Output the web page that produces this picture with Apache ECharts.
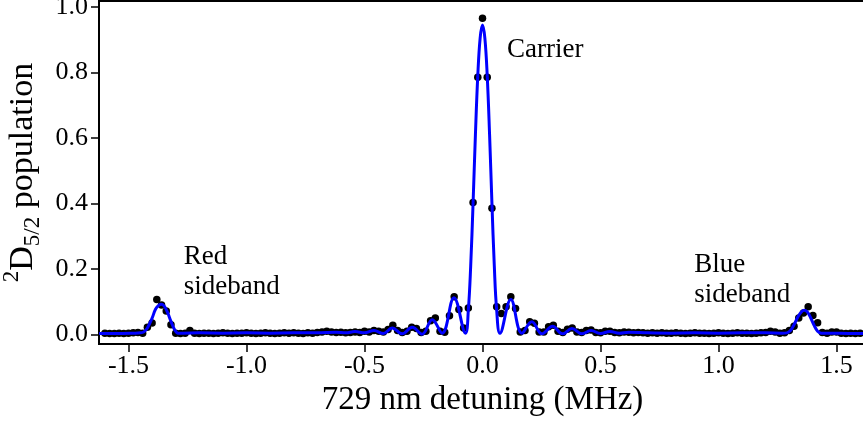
<!DOCTYPE html>
<html>
<head>
<meta charset="utf-8">
<script src="https://cdn.jsdelivr.net/npm/echarts@6/dist/echarts.min.js"></script>
<style>
  html, body { margin: 0; padding: 0; background: #fff; }
  #chart { width: 863px; height: 423px; }
</style>
</head>
<body>
<div id="chart"></div>
<script>
// Measured scan: laser detuning (MHz) and excited-state population
const detuning = [
  -1.60, -1.58, -1.56, -1.54, -1.52, -1.50, -1.48, -1.46, -1.44, -1.42,
  -1.40, -1.38, -1.36, -1.34, -1.32, -1.30, -1.28, -1.26, -1.24, -1.22,
  -1.20, -1.18, -1.16, -1.14, -1.12, -1.10, -1.08, -1.06, -1.04, -1.02,
  -1.00, -0.98, -0.96, -0.94, -0.92, -0.90, -0.88, -0.86, -0.84, -0.82,
  -0.80, -0.78, -0.76, -0.74, -0.72, -0.70, -0.68, -0.66, -0.64, -0.62,
  -0.60, -0.58, -0.56, -0.54, -0.52, -0.50, -0.48, -0.46, -0.44, -0.42,
  -0.40, -0.38, -0.36, -0.34, -0.32, -0.30, -0.28, -0.26, -0.24, -0.22,
  -0.20, -0.18, -0.16, -0.14, -0.12, -0.10, -0.08, -0.06, -0.04, -0.02,
   0.00,  0.02,  0.04,  0.06,  0.08,  0.10,  0.12,  0.14,  0.16,  0.18,
   0.20,  0.22,  0.24,  0.26,  0.28,  0.30,  0.32,  0.34,  0.36,  0.38,
   0.40,  0.42,  0.44,  0.46,  0.48,  0.50,  0.52,  0.54,  0.56,  0.58,
   0.60,  0.62,  0.64,  0.66,  0.68,  0.70,  0.72,  0.74,  0.76,  0.78,
   0.80,  0.82,  0.84,  0.86,  0.88,  0.90,  0.92,  0.94,  0.96,  0.98,
   1.00,  1.02,  1.04,  1.06,  1.08,  1.10,  1.12,  1.14,  1.16,  1.18,
   1.20,  1.22,  1.24,  1.26,  1.28,  1.30,  1.32,  1.34,  1.36,  1.38,
   1.40,  1.42,  1.44,  1.46,  1.48,  1.50,  1.52,  1.54,  1.56,  1.58,
   1.60
];
const population = [
  0.004, 0.003, 0.003, 0.004, 0.003, 0.004, 0.005, 0.006, 0.004, 0.022,
  0.035, 0.107, 0.090, 0.072, 0.030, 0.004, 0.003, 0.004, 0.012, 0.004,
  0.003, 0.004, 0.004, 0.003, 0.004, 0.005, 0.004, 0.003, 0.004, 0.004,
  0.005, 0.004, 0.003, 0.004, 0.005, 0.004, 0.003, 0.004, 0.005, 0.004,
  0.005, 0.004, 0.003, 0.005, 0.004, 0.006, 0.008, 0.010, 0.008, 0.006,
  0.007, 0.005, 0.006, 0.008, 0.006, 0.010, 0.008, 0.012, 0.010, 0.008,
  0.015, 0.028, 0.012, 0.006, 0.010, 0.022, 0.018, 0.006, 0.010, 0.042,
  0.050, 0.010, 0.007, 0.057, 0.115, 0.076, 0.020, 0.081, 0.403, 0.785,
  0.965, 0.785, 0.385, 0.085, 0.064, 0.085, 0.115, 0.079, 0.008, 0.012,
  0.039, 0.034, 0.008, 0.008, 0.024, 0.028, 0.010, 0.006, 0.016, 0.020,
  0.008, 0.006, 0.012, 0.014, 0.006, 0.005, 0.010, 0.010, 0.006, 0.005,
  0.008, 0.007, 0.005, 0.006, 0.005, 0.004, 0.005, 0.004, 0.005, 0.004,
  0.004, 0.005, 0.004, 0.003, 0.004, 0.005, 0.004, 0.004, 0.003, 0.004,
  0.005, 0.004, 0.003, 0.004, 0.005, 0.004, 0.004, 0.003, 0.004, 0.005,
  0.006, 0.010, 0.008, 0.004, 0.005, 0.012, 0.025, 0.050, 0.066, 0.085,
  0.058, 0.036, 0.006, 0.004, 0.008, 0.008, 0.004, 0.003, 0.004, 0.003,
  0.004
];

// Fitted lineshape, sampled at its turning points and along the carrier lobe
const fitDetuning = [
  -1.625, -1.55, -1.48, -1.45, -1.435, -1.42, -1.40, -1.385, -1.37, -1.362,
  -1.35, -1.335, -1.32, -1.305, -1.29, -1.27, -1.20, -1.10, -1.00, -0.90,
  -0.80, -0.70, -0.62, -0.58, -0.54, -0.50, -0.46, -0.42, -0.383, -0.34,
  -0.298, -0.256, -0.213, -0.171, -0.121, -0.072, -0.06, -0.05, -0.04, -0.03,
  -0.02, -0.01, 0.00, 0.01, 0.02, 0.03, 0.04, 0.05, 0.06, 0.074,
  0.12, 0.167, 0.209, 0.252, 0.297, 0.339, 0.379, 0.421, 0.46, 0.50,
  0.54, 0.58, 0.62, 0.70, 0.80, 0.90, 1.00, 1.10, 1.20, 1.27,
  1.29, 1.305, 1.32, 1.335, 1.35, 1.363, 1.375, 1.39, 1.405, 1.42,
  1.435, 1.48, 1.55, 1.625
];
const fitPopulation = [
  0.003, 0.003, 0.004, 0.005, 0.008, 0.020, 0.050, 0.078, 0.090, 0.092,
  0.088, 0.068, 0.040, 0.015, 0.004, 0.004, 0.005, 0.004, 0.005, 0.004,
  0.005, 0.005, 0.007, 0.005, 0.009, 0.005, 0.012, 0.003, 0.020, 0.002,
  0.022, 0.001, 0.045, 0.004, 0.112, 0.004, 0.075, 0.210, 0.400, 0.610,
  0.790, 0.905, 0.945, 0.905, 0.790, 0.610, 0.400, 0.210, 0.075, 0.004,
  0.107, 0.004, 0.039, 0.002, 0.025, 0.002, 0.018, 0.002, 0.012, 0.003,
  0.009, 0.004, 0.007, 0.005, 0.004, 0.005, 0.004, 0.005, 0.005, 0.004,
  0.005, 0.012, 0.030, 0.052, 0.068, 0.074, 0.070, 0.052, 0.028, 0.010,
  0.004, 0.004, 0.003, 0.003
];

const xTicks = [-1.5, -1.0, -0.5, 0.0, 0.5, 1.0, 1.5];
const yTicks = [0.0, 0.2, 0.4, 0.6, 0.8, 1.0];

const annotations = [
  { text: 'Carrier', x: 0.104, y: 0.870 },
  { text: 'Red\nsideband', x: -1.266, y: 0.190 },
  { text: 'Blue\nsideband', x: 0.897, y: 0.168 }
];

const FONT = '"Liberation Serif", "Times New Roman", serif';

const chart = echarts.init(document.getElementById('chart'), null, { renderer: 'canvas' });

chart.setOption({
  animation: false,
  backgroundColor: '#fff',
  grid: {
    left: 99, top: 1, width: 767, height: 343,
    show: true, borderColor: '#000', borderWidth: 2,
    containLabel: false, outerBoundsMode: 'none'
  },
  xAxis: {
    type: 'value', min: -1.625, max: 1.625,
    axisLine: { show: true, onZero: false, lineStyle: { color: '#000', width: 2 } },
    axisTick: { show: true, customValues: xTicks, length: 8, lineStyle: { color: '#000', width: 1.5 } },
    axisLabel: {
      customValues: xTicks, formatter: v => v.toFixed(1),
      fontFamily: FONT, fontSize: 26, color: '#000', margin: 9
    },
    splitLine: { show: false },
    name: '729 nm detuning (MHz)', nameLocation: 'middle', nameGap: 39,
    nameTextStyle: { fontFamily: FONT, fontSize: 33, color: '#000', verticalAlign: 'top' }
  },
  yAxis: {
    type: 'value', min: -0.029, max: 1.018,
    axisLine: { show: true, onZero: false, lineStyle: { color: '#000', width: 2 } },
    axisTick: { show: true, customValues: yTicks, length: 8, lineStyle: { color: '#000', width: 1.5 } },
    axisLabel: {
      customValues: yTicks, formatter: v => v.toFixed(1),
      fontFamily: FONT, fontSize: 26, color: '#000', margin: 11
    },
    splitLine: { show: false },
    name: '{sup|2}{main|D}{sub|5/2}{main| population}',
    nameLocation: 'middle', nameRotate: 90, nameGap: 52,
    nameTextStyle: {
      fontFamily: FONT, fontSize: 34, color: '#000',
      rich: {
        main: { fontFamily: FONT, fontSize: 34, color: '#000', lineHeight: 44 },
        sup: { fontFamily: FONT, fontSize: 23, color: '#000', lineHeight: 22, verticalAlign: 'top' },
        sub: { fontFamily: FONT, fontSize: 23, color: '#000', lineHeight: 22, verticalAlign: 'bottom' }
      }
    }
  },
  series: [
    {
      type: 'scatter',
      data: detuning.map((x, i) => [x, population[i]]),
      symbol: 'circle', symbolSize: 7.5,
      itemStyle: { color: '#000', opacity: 1 },
      z: 2
    },
    {
      type: 'line',
      data: fitDetuning.map((x, i) => [x, fitPopulation[i]]),
      smooth: 0.4,
      showSymbol: false,
      lineStyle: { color: '#0000ff', width: 3 },
      z: 3
    }
  ]
});

// Text labels for the three resonances, positioned in data coordinates
chart.setOption({
  graphic: annotations.map(a => {
    const p = chart.convertToPixel({ gridIndex: 0 }, [a.x, a.y]);
    return {
      type: 'text', x: p[0], y: p[1], z: 10,
      style: {
        text: a.text, fill: '#000', font: '27px ' + FONT,
        lineHeight: 30, textAlign: 'left', textVerticalAlign: 'middle'
      }
    };
  })
});
</script>
</body>
</html>
